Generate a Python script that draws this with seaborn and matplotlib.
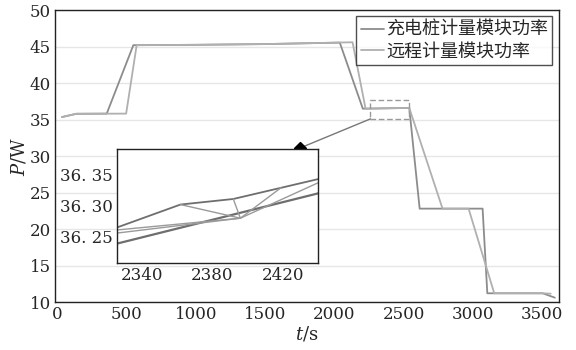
import numpy as np
import pandas as pd
import seaborn as sns
import matplotlib
matplotlib.use("Agg")
import matplotlib.pyplot as plt
from matplotlib.ticker import FixedLocator, FixedFormatter

# ---------------- data ----------------
series_names = ["充电桩计量模块功率", "远程计量模块功率"]
t_pile = [35, 140, 358, 550, 1000, 1500, 2039, 2205, 2540, 2615, 3069, 3103, 3503, 3590]
p_pile = [35.35, 35.8, 35.82, 45.2, 45.25, 45.35, 45.55, 36.5, 36.6, 22.8, 22.8, 11.2, 11.2, 10.6]
t_remote = [35, 140, 498, 574, 1000, 1500, 2131, 2225, 2540, 2780, 2968, 3153, 3503, 3560]
p_remote = [35.35, 35.8, 35.82, 45.2, 45.25, 45.35, 45.6, 36.5, 36.6, 22.8, 22.8, 11.2, 11.2, 11.15]

x_ticks = [0, 500, 1000, 1500, 2000, 2500, 3000, 3500]
y_ticks = [10, 15, 20, 25, 30, 35, 40, 45, 50]

# inset (zoomed) traces
in_a_t = [2326, 2362, 2392, 2419, 2440]
in_a_p = [36.265, 36.302, 36.311, 36.329, 36.343]
in_b_t = [2326, 2440]
in_b_p = [36.239, 36.320]
in_c_t = [2362, 2396]
in_c_p = [36.302, 36.280]
in_d_t = [2392, 2396]
in_d_p = [36.311, 36.280]
in_e_t = [2326, 2396, 2419]
in_e_p = [36.261, 36.280, 36.329]
in_f_t = [2326, 2396, 2440]
in_f_p = [36.256, 36.280, 36.337]
in_x_ticks = [2340, 2380, 2420]
in_y_ticks = [36.25, 36.30, 36.35]
in_y_labels = ["36. 25", "36. 30", "36. 35"]

# ---------------- style ----------------
sns.set_style("white")
plt.rcParams['font.family'] = ['DejaVu Serif', 'Noto Sans CJK SC']
plt.rcParams['mathtext.fontset'] = 'dejavuserif'

fig = plt.figure(figsize=(5.76, 3.5), dpi=100)
ax = fig.add_axes([0.0955, 0.137, 0.8745, 0.834])

df = pd.DataFrame({
    "t": t_pile + t_remote,
    "P": p_pile + p_remote,
    "s": [series_names[0]] * len(t_pile) + [series_names[1]] * len(t_remote),
})
pal = {series_names[0]: "#8c8c8c", series_names[1]: "#b0b0b0"}
sns.lineplot(data=df, x="t", y="P", hue="s", palette=pal, estimator=None,
             sort=False, linewidth=1.3, ax=ax)

ax.set_xlim(-15, 3618)
ax.set_ylim(10, 50)
ax.set_xticks(x_ticks)
ax.set_yticks(y_ticks)
ax.yaxis.grid(True, color="#e6e6e6", linewidth=1.0)
ax.set_axisbelow(True)
ax.tick_params(direction="in", length=4, width=1, labelsize=12, color="#222222", pad=3)
for sp in ax.spines.values():
    sp.set_color("#222222")
    sp.set_linewidth(1.0)
ax.set_xlabel("$t$/s", fontsize=13, labelpad=1)
ax.set_ylabel("$P$/W", fontsize=13, labelpad=1)

leg = ax.legend(loc="upper right", frameon=True, fancybox=False,
                edgecolor="#222222", handlelength=1.3, handletextpad=0.1,
                borderpad=0.25, labelspacing=0.2, borderaxespad=0.35,
                prop={'family': ['Noto Sans CJK SC'], 'size': 13})
leg.get_frame().set_linewidth(1.0)

# dashed zoom rectangle and connector
ax.plot([2260, 2536, 2536, 2260, 2260], [35.1, 35.1, 37.65, 37.65, 35.1],
        linestyle=(0, (4, 2)), color="#999999", linewidth=1.0)
ax.plot([2260, 1751], [35.1, 31.1], color="#777777", linewidth=1.0)
ax.plot([1751], [31.1], marker="D", color="black", markersize=6, zorder=10)

# ---------------- inset ----------------
ins = fig.add_axes([0.203, 0.249, 0.349, 0.326])
ins.set_facecolor("white")
dark = "#6e6e6e"
light = "#9a9a9a"
sns.lineplot(x=in_b_t, y=in_b_p, color=dark, linewidth=1.6, ax=ins, estimator=None, sort=False)
sns.lineplot(x=in_a_t, y=in_a_p, color=dark, linewidth=1.3, ax=ins, estimator=None, sort=False)
sns.lineplot(x=in_c_t, y=in_c_p, color=light, linewidth=1.0, ax=ins, estimator=None, sort=False)
sns.lineplot(x=in_d_t, y=in_d_p, color=light, linewidth=1.0, ax=ins, estimator=None, sort=False)
sns.lineplot(x=in_e_t, y=in_e_p, color=light, linewidth=1.0, ax=ins, estimator=None, sort=False)
sns.lineplot(x=in_f_t, y=in_f_p, color=light, linewidth=1.0, ax=ins, estimator=None, sort=False)
ins.set_xlim(2326, 2440)
ins.set_ylim(36.208, 36.392)
ins.xaxis.set_major_locator(FixedLocator(in_x_ticks))
ins.yaxis.set_major_locator(FixedLocator(in_y_ticks))
ins.yaxis.set_major_formatter(FixedFormatter(in_y_labels))
ins.tick_params(direction="in", length=5, width=1, labelsize=12, color="#222222", pad=3)
for sp in ins.spines.values():
    sp.set_color("#222222")
    sp.set_linewidth(1.0)
ins.set_xlabel("")
ins.set_ylabel("")

fig.savefig("out.png", dpi=100)
